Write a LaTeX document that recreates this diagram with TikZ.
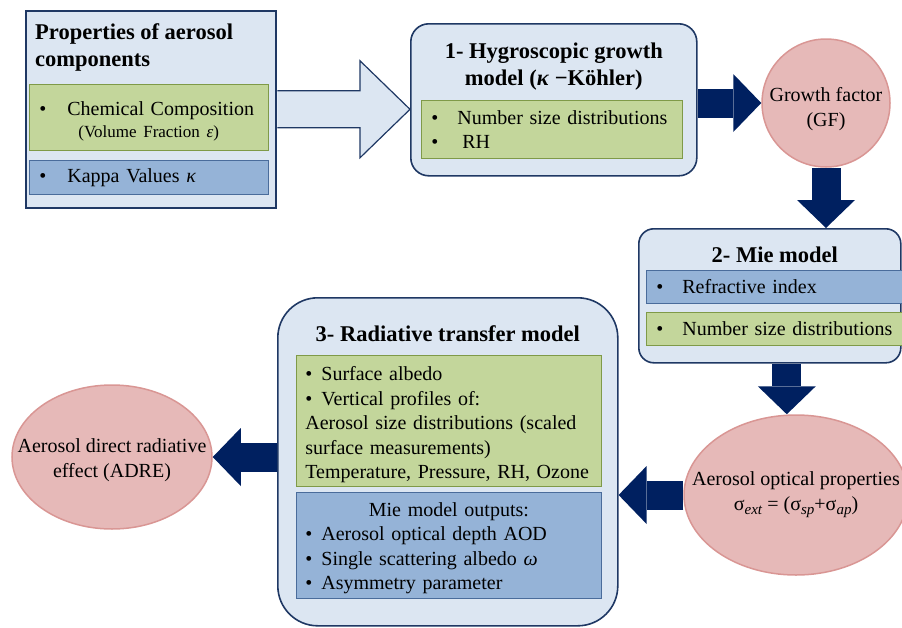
\documentclass[tikz,border=0pt]{standalone}
\usepackage{fontspec}
\setmainfont{Liberation Serif}
\usetikzlibrary{arrows.meta,shapes.geometric,calc}
\definecolor{navy}{HTML}{002060}
\definecolor{panelline}{HTML}{1F3864}
\definecolor{panelfill}{HTML}{DCE6F2}
\definecolor{greenfill}{HTML}{C3D69B}
\definecolor{greenline}{HTML}{7F9A48}
\definecolor{bluefill}{HTML}{95B3D7}
\definecolor{blueline}{HTML}{4A6C9B}
\definecolor{pinkfill}{HTML}{E6B9B8}
\definecolor{pinkline}{HTML}{D99694}
\tikzstyle{panel}=[draw=panelline, fill=panelfill, line width=1.6pt, inner sep=0pt]
\tikzstyle{model}=[panel, rounded corners=18pt]
\tikzstyle{headline}=[font=\fontsize{22.5pt}{27pt}\selectfont\bfseries, inner sep=0pt]
\tikzstyle{input}=[draw=greenline, fill=greenfill, line width=0.8pt, inner xsep=10pt,
    inner ysep=0pt, align=left, anchor=north west]
\tikzstyle{param}=[input, draw=blueline, fill=bluefill]
\tikzstyle{blob}=[draw=pinkline, fill=pinkfill, line width=1.5pt, inner sep=0pt]
\tikzstyle{fatarrow}=[draw=navy, line width=29pt,
    -{Triangle[length=28pt, width=58pt, line width=0pt]}]
\tikzstyle{hollow}=[draw=panelline, fill=panelfill, line width=1.2pt, line join=miter]
\newcommand{\blt}[1]{\textbullet\hspace{#1pt}}
\newcommand{\up}[1]{\rule{0pt}{#1pt}}
\newcommand{\sbs}[1]{\raisebox{-4.5pt}{\fontsize{15pt}{15pt}\selectfont\textit{#1}}}

\begin{document}
\begin{tikzpicture}[x=1pt, y=-1pt, font=\fontsize{20pt}{24.5pt}\selectfont]
    \useasboundingbox (0,0) rectangle (902,627);
    % aerosol properties
    \node (props) [panel, anchor=north west, minimum width=250pt, minimum height=197pt] at (25,10) {};
    \path (props.north west)+(10,13) node (propstitle) [headline, anchor=north west, align=left] {Properties of aerosol\\components};
    \path (props.north west)+(4,74) node (chem) [input, text width=219pt, minimum height=66pt] {\up{22}\blt{21}Chemical Composition\\[-3pt]\hspace*{39pt}{\fontsize{17pt}{19pt}\selectfont(Volume Fraction \textit{ε})}};
    \path (props.north west)+(4,150) node (kappa) [param, text width=219pt, minimum height=34pt] {\blt{21}Kappa Values \textit{κ}};
    % 1- hygroscopic growth
    \node (hyg) [model, anchor=north west, minimum width=286pt, minimum height=152pt] at (410,23) {};
    \path (hyg.north)+(0,20) node (hygtitle) [headline, anchor=north, align=center] {1- Hygroscopic growth\\model (\textit{κ} −Köhler)};
    \path (hyg.north west)+(11,77) node (hygin) [input, text width=241pt, minimum height=58pt] {\blt{19}Number size distributions\\\blt{24}RH};
    \node (gf) [blob, circle, minimum size=128pt,
        label={[align=center, yshift=-6pt]center:{Growth factor\\(GF)}}] at (826,103) {};
    % 2- mie
    \node (mie) [model, rounded corners=15pt, anchor=north west, minimum width=262pt, minimum height=134pt] at (638,228) {};
    \path (mie.north)+(5,19) node (mietitle) [headline, anchor=north] {2- Mie model};
    \path (mie.north west)+(8,42) node (refr) [param, text width=238pt, minimum height=33pt] {\blt{19}Refractive index};
    \path (mie.north west)+(8,84) node (miensd) [input, text width=238pt, minimum height=33pt] {\blt{19}Number size distributions};
    \node (aop) [blob, ellipse, minimum width=224pt, minimum height=160pt,
        label={[align=center]center:{Aerosol optical properties\\σ\sbs{ext}\hspace{5pt}=\hspace{5pt}(σ\sbs{sp}+σ\sbs{ap})}}] at (796,495) {};
    % 3- radiative transfer
    \node (rtm) [model, rounded corners=40pt, anchor=north west, minimum width=340pt, minimum height=328pt] at (277,297) {};
    \path (rtm.north)+(0,28) node (rtmtitle) [headline, anchor=north] {3- Radiative transfer model};
    \path (rtm.north west)+(19,58) node (rtmin) [input, inner xsep=9pt, text width=287pt, minimum height=131pt] {\up{22}\blt{9}Surface albedo\\\blt{9}Vertical profiles of:\\Aerosol size distributions (scaled\\surface measurements)\\Temperature, Pressure, RH, Ozone};
    \path (rtm.north west)+(19,195) node (rtmmie) [param, inner xsep=9pt, text width=287pt, minimum height=106pt] {\makebox[\linewidth]{\up{19}Mie model outputs:}\\\blt{9}Aerosol optical depth AOD\\\blt{9}Single scattering albedo \textit{ω}\\\blt{9}Asymmetry parameter};
    \node (adre) [blob, ellipse, minimum width=200pt, minimum height=144pt,
        label={[align=center, yshift=-3pt]center:{Aerosol direct radiative\\effect (ADRE)}}] at (112,457) {};
    % arrows
    \coordinate (tip) at (hyg.west |- props.east);
    \draw [hollow] ($(props.east)+(0.8,-18.5)$) -- ($(tip)+(-50,-18.5)$) -- ++(0,-30) -- (tip)
        -- ($(tip)+(-50,48.5)$) -- ++(0,-30) -- ($(props.east)+(0.8,18.5)$);
    \draw [fatarrow] (hyg.east |- gf.west) -- (gf.west);
    \draw [fatarrow] (gf.south) -- (gf.south |- mie.north);
    \coordinate (miedrop) at ([xshift=17pt]mie.south);
    \draw [fatarrow] (miedrop) -- (miedrop |- aop.north);
    \draw [fatarrow] (aop.west) -- (aop.west -| rtm.east);
    \draw [fatarrow] (rtm.west |- adre.east) -- (adre.east);
\end{tikzpicture}
\end{document}
